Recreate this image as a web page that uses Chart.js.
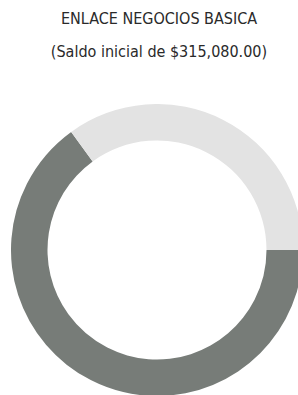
<!DOCTYPE html>
<html lang="es">
<head>
    <meta charset="UTF-8">
    <title>Enlace Negocios Basica</title>
    <style>
body {
    margin: 0;
    padding: 0;
    width: 298px;
    height: 395px;
    overflow: hidden;
    background: #fff;
    position: relative;
    font-family: 'DejaVu Sans Condensed', 'Liberation Sans Narrow', sans-serif;
    color: #2a2a2a;
}

.title {
    position: absolute;
    left: 0;
    width: 318px;
    text-align: center;
    font-size: 16px;
    white-space: nowrap;
}

#t1 { top: 9px; }
#t2 { top: 42px; }

#wrap {
    position: absolute;
    left: 11px;
    top: 104px;
    width: 292px;
    height: 292px;
}
    </style>
</head>
<body>
    <div class="title" id="t1">ENLACE NEGOCIOS BASICA</div>
    <div class="title" id="t2">(Saldo inicial de $315,080.00)</div>
    <div id="wrap"><canvas id="chart"></canvas></div>

    <script src="https://cdn.jsdelivr.net/npm/chart.js"></script>
    <script>
        // slices, starting at 3 o'clock going clockwise
        const labels = ['Saldo', 'Restante'];
        const values = [65, 35];
        const colors = ['#777c78', '#e3e3e3'];

        const ctx = document.getElementById('chart').getContext('2d');
        new Chart(ctx, {
            type: 'doughnut',
            data: {
                labels: labels,
                datasets: [{
                    data: values,
                    backgroundColor: colors,
                    borderWidth: 0
                }]
            },
            options: {
                responsive: true,
                maintainAspectRatio: false,
                animation: false,
                rotation: 90,
                cutout: '75%',
                layout: { padding: 0 },
                plugins: {
                    legend: { display: false },
                    tooltip: { enabled: false }
                }
            }
        });
    </script>
</body>
</html>
